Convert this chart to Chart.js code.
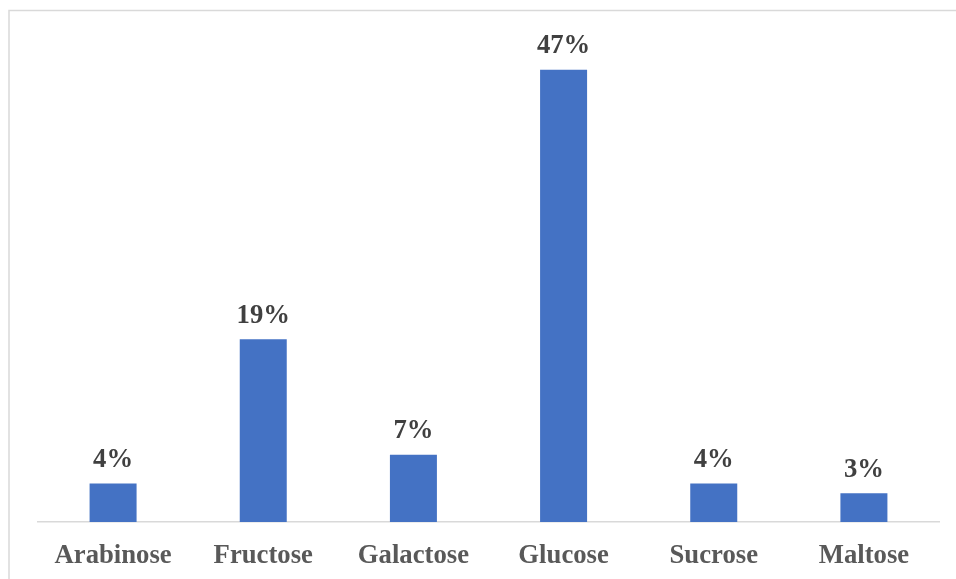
<!DOCTYPE html>
<html>
<head>
<meta charset="utf-8">
<script src="https://cdn.jsdelivr.net/npm/chart.js@4"></script>
<style>
  html, body { margin: 0; padding: 0; background: #ffffff; overflow: hidden; }
  canvas { display: block; }
</style>
</head>
<body>
<canvas id="sugars_chart" width="956" height="579"></canvas>
<script>
const sugars = ["Arabinose", "Fructose", "Galactose", "Glucose", "Sucrose", "Maltose"];
const shares = [4, 19, 7, 47, 4, 3];

const serif = "'Liberation Serif', 'Times New Roman', serif";

// thin grey frame, only left and top edges are visible
const framePlugin = {
    id: 'frame',
    beforeDraw(chart) {
        const ctx = chart.ctx;
        ctx.save();
        ctx.strokeStyle = '#d9d9d9';
        ctx.lineWidth = 1.5;
        ctx.beginPath();
        ctx.moveTo(9, 579);
        ctx.lineTo(9, 10.5);
        ctx.lineTo(956, 10.5);
        ctx.stroke();
        ctx.restore();
    }
};

// percentage above each bar
const valueLabels = {
    id: 'valueLabels',
    afterDatasetsDraw(chart) {
        const ctx = chart.ctx;
        const meta = chart.getDatasetMeta(0);
        ctx.save();
        ctx.font = "bold 26.7px " + serif;
        ctx.fillStyle = '#404040';
        ctx.textAlign = 'center';
        ctx.textBaseline = 'alphabetic';
        meta.data.forEach((bar, i) => {
            ctx.fillText(shares[i] + '%', bar.x, bar.y - 16.5);
        });
        ctx.restore();
    }
};

const chart = document.getElementById("sugars_chart");

new Chart(chart, {
    type: 'bar',
    data: {
        labels: sugars,
        datasets: [{
            data: shares,
            backgroundColor: '#4472c4',
            borderWidth: 0,
            barPercentage: 0.313,
            categoryPercentage: 1
        }]
    },
    options: {
        responsive: false,
        animation: false,
        devicePixelRatio: 1,
        layout: {
            padding: { left: 38, right: 17, top: 41, bottom: 0 }
        },
        scales: {
            y: {
                display: false,
                min: 0,
                max: 50
            },
            x: {
                grid: { display: false, drawTicks: false },
                border: { display: true, color: '#d9d9d9', width: 1.5 },
                ticks: {
                    color: '#595959',
                    padding: 18,
                    maxRotation: 0,
                    autoSkip: false,
                    font: { family: serif, size: 26.7, weight: 'bold' }
                },
                afterFit(scale) {
                    scale.height = 57;
                }
            }
        },
        plugins: {
            legend: { display: false },
            tooltip: { enabled: false }
        }
    },
    plugins: [framePlugin, valueLabels]
});
</script>
</body>
</html>
